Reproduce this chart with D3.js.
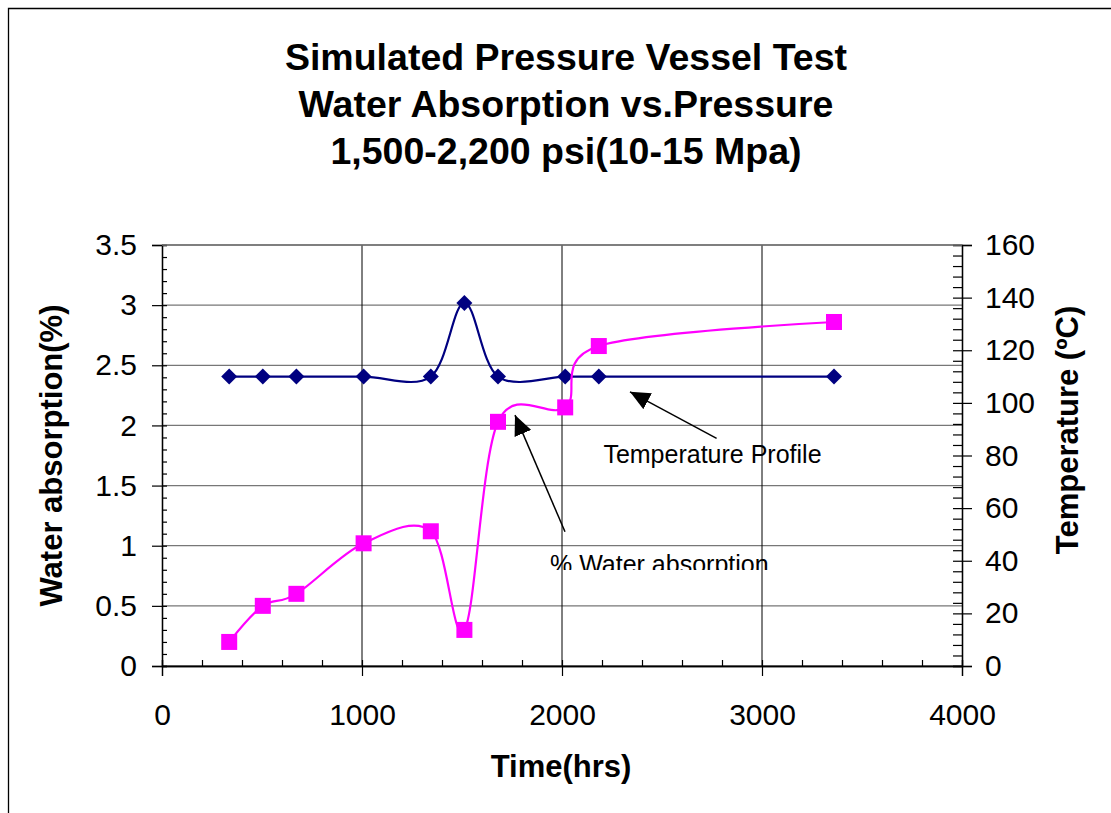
<!DOCTYPE html>
<html>
<head>
<meta charset="utf-8">
<script src="https://cdn.jsdelivr.net/npm/d3@7"></script>
<style>
  body { margin: 0; background: #fff; }
  svg { display: block; font-family: Arial, "Liberation Sans", sans-serif; }
</style>
</head>
<body>
<div id="container"></div>
<script>
// data
const hours = [336, 504, 672, 1008, 1344, 1512, 1680, 2016, 2184, 3360]
const waterAbsorption = [0.2, 0.5, 0.6, 1.02, 1.12, 0.3, 2.03, 2.15, 2.66, 2.86]
const temperature = [110, 110, 110, 110, 110, 138, 110, 110, 110, 110]

const titleLines = [
  'Simulated Pressure Vessel Test',
  'Water Absorption vs.Pressure',
  '1,500-2,200 psi(10-15 Mpa)'
]
const xTicks = [0, 1000, 2000, 3000, 4000]
const leftTicks = [0, 0.5, 1, 1.5, 2, 2.5, 3, 3.5]
const rightTicks = [0, 20, 40, 60, 80, 100, 120, 140, 160]

const width = 1111
const height = 813

const margins = { top: 245, bottom: 147, left: 162, right: 149 }

const svg = d3.select('#container')
  .append('svg')
  .attr('width', width)
  .attr('height', height)
  .attr('viewBox', [0, 0, width, height])

const x = d3.scaleLinear([0, 4000], [margins.left, width - margins.right])
const yLeft = d3.scaleLinear([0, 3.5], [height - margins.bottom, margins.top])
const yRight = d3.scaleLinear([0, 160], [height - margins.bottom, margins.top])

// chart border (left + top only are visible)
svg.append('path')
  .attr('d', `M8.5,${height} V8.5 H${width}`)
  .style('fill', 'none')
  .style('stroke', '#000')
  .style('stroke-width', 1.3)

// title
svg.append('g')
  .selectAll('text')
  .data(titleLines)
  .join('text')
  .attr('x', 566)
  .attr('y', (d, i) => 70 + i * 47)
  .attr('text-anchor', 'middle')
  .style('font-size', '37.5px')
  .style('font-weight', 'bold')
  .text(d => d)

// gridlines
svg.append('g')
  .selectAll('line')
  .data(leftTicks)
  .join('line')
  .attr('x1', x(0))
  .attr('x2', x(4000))
  .attr('y1', d => yLeft(d))
  .attr('y2', d => yLeft(d))
  .style('stroke', '#777')
  .style('stroke-width', 1.3)

svg.append('g')
  .selectAll('line')
  .data(xTicks.slice(1, -1))
  .join('line')
  .attr('x1', d => x(d))
  .attr('x2', d => x(d))
  .attr('y1', yLeft(0))
  .attr('y2', yLeft(3.5))
  .style('stroke', '#000')
  .style('stroke-width', 1)

// axes: minor ticks inside, major ticks crossing
const fmt = d3.format('')

const xAxis = svg.append('g').attr('transform', `translate(0,${yLeft(0)})`)
xAxis.call(d3.axisBottom(x).tickValues(d3.range(0, 4001, 200)).tickSize(-6).tickFormat(''))
xAxis.append('g').call(d3.axisBottom(x).tickValues(xTicks).tickSize(10).tickPadding(28).tickFormat(fmt))

const leftAxis = svg.append('g').attr('transform', `translate(${x(0)},0)`)
leftAxis.call(d3.axisLeft(yLeft).tickValues(d3.range(0, 36).map(d => d / 10)).tickSize(-5).tickFormat(''))
leftAxis.append('g').call(d3.axisLeft(yLeft).tickValues(leftTicks).tickSize(10).tickPadding(15).tickFormat(fmt))

const rightAxis = svg.append('g').attr('transform', `translate(${x(4000)},0)`)
rightAxis.call(d3.axisRight(yRight).tickValues(d3.range(0, 161, 4)).tickSize(-9).tickFormat(''))
rightAxis.append('g').call(d3.axisRight(yRight).tickValues(rightTicks).tickSize(10).tickPadding(13).tickFormat(fmt))

svg.selectAll('.domain').style('stroke', '#000').style('stroke-width', 1.3)
svg.selectAll('.tick line').style('stroke', '#000').style('stroke-width', 1.2)
svg.selectAll('.tick text')
  .style('font-size', '30px')
  .style('font-family', 'Arial, "Liberation Sans", sans-serif')
  .style('fill', '#000')

// plot area top edge
svg.append('line')
  .attr('x1', x(0)).attr('x2', x(4000))
  .attr('y1', yLeft(3.5)).attr('y2', yLeft(3.5))
  .style('stroke', '#777')
  .style('stroke-width', 1.3)

// axis titles
svg.append('text')
  .attr('transform', `translate(561,777)`)
  .attr('text-anchor', 'middle')
  .style('font-size', '31px')
  .style('font-weight', 'bold')
  .text('Time(hrs)')

svg.append('text')
  .attr('transform', `translate(62,${yLeft(1.75)}) rotate(-90)`)
  .attr('text-anchor', 'middle')
  .style('font-size', '31px')
  .style('font-weight', 'bold')
  .text('Water absorption(%)')

svg.append('text')
  .attr('transform', `translate(1078,430) rotate(-90)`)
  .attr('text-anchor', 'middle')
  .style('font-size', '31px')
  .style('font-weight', 'bold')
  .text('Temperature (ºC)')

// series
const tempPoints = hours.map((h, i) => [h, temperature[i]])
const waterPoints = hours.map((h, i) => [h, waterAbsorption[i]])

const tempLine = d3.line()
  .x(d => x(d[0]))
  .y(d => yRight(d[1]))
  .curve(d3.curveCardinal.tension(0))

const waterLine = d3.line()
  .x(d => x(d[0]))
  .y(d => yLeft(d[1]))
  .curve(d3.curveCardinal.tension(0))

svg.append('path')
  .attr('d', tempLine(tempPoints))
  .style('fill', 'none')
  .style('stroke', '#000080')
  .style('stroke-width', 2.2)

svg.append('g')
  .selectAll('path')
  .data(tempPoints)
  .join('path')
  .attr('transform', d => `translate(${x(d[0])},${yRight(d[1])})`)
  .attr('d', 'M0,-8L8,0L0,8L-8,0Z')
  .style('fill', '#000080')

svg.append('path')
  .attr('d', waterLine(waterPoints))
  .style('fill', 'none')
  .style('stroke', '#ff00ff')
  .style('stroke-width', 2.2)

svg.append('g')
  .selectAll('rect')
  .data(waterPoints)
  .join('rect')
  .attr('x', d => x(d[0]) - 8)
  .attr('y', d => yLeft(d[1]) - 8)
  .attr('width', 16)
  .attr('height', 16)
  .style('fill', '#ff00ff')

// annotations
svg.append('defs')
  .append('marker')
  .attr('id', 'head')
  .attr('viewBox', '0 0 20 18')
  .attr('refX', 20)
  .attr('refY', 9)
  .attr('markerWidth', 20)
  .attr('markerHeight', 18)
  .attr('markerUnits', 'userSpaceOnUse')
  .attr('orient', 'auto')
  .append('path')
  .attr('d', 'M0,0L20,9L0,18Z')
  .style('fill', '#000')

svg.append('line')
  .attr('x1', x(2773)).attr('y1', yRight(86.5))
  .attr('x2', x(2340)).attr('y2', yRight(104.2))
  .attr('marker-end', 'url(#head)')
  .style('stroke', '#000')
  .style('stroke-width', 1.5)

svg.append('line')
  .attr('x1', x(2015)).attr('y1', yLeft(1.116))
  .attr('x2', x(1765)).attr('y2', yLeft(2.086))
  .attr('marker-end', 'url(#head)')
  .style('stroke', '#000')
  .style('stroke-width', 1.5)

svg.append('text')
  .attr('x', x(2207))
  .attr('y', yRight(77))
  .style('font-size', '25px')
  .text('Temperature Profile')

svg.append('clipPath')
  .attr('id', 'cut')
  .append('rect')
  .attr('x', 0)
  .attr('y', 0)
  .attr('width', width)
  .attr('height', yLeft(0.798))

svg.append('text')
  .attr('x', x(1940))
  .attr('y', yLeft(0.77))
  .attr('clip-path', 'url(#cut)')
  .style('font-size', '25px')
  .text('% Water absorption')
</script>
</body>
</html>
